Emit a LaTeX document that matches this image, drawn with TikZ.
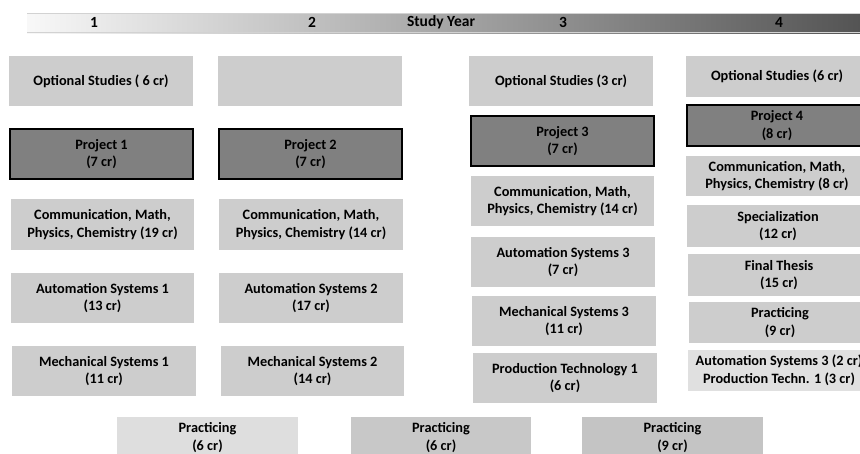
\documentclass[tikz,border=0pt]{standalone}
\usepackage{fontspec}
\setmainfont{Carlito}
\definecolor{boxgray}{RGB}{205,205,205}
\definecolor{lightbox}{RGB}{224,224,224}
\definecolor{projgray}{RGB}{128,128,128}
\definecolor{pracA}{RGB}{222,222,222}
\definecolor{pracB}{RGB}{200,200,200}
\definecolor{pracC}{RGB}{196,196,196}
\definecolor{barL}{RGB}{248,248,248}
\definecolor{barM}{RGB}{140,140,140}
\definecolor{barR}{RGB}{84,84,84}
\tikzset{
  cell/.style={fill=boxgray, inner sep=0pt, align=center,
    font=\fontsize{14.3}{17.5}\selectfont\bfseries, text=black},
  proj/.style={cell, fill=projgray, draw=black, line width=2pt},
  hdr/.style={font=\fontsize{15.5}{18}\selectfont\bfseries, text=black, inner sep=0pt},
}
\begin{document}
\begin{tikzpicture}[x=1pt,y=-1pt]
\useasboundingbox (0,0) rectangle (860,453);
\clip (0,0) rectangle (860,453);
\fill[white] (0,0) rectangle (860,453);
% header bar
\shade[left color=barL, middle color=barM, right color=barR] (27,13) rectangle (860,33);
\draw[gray!35, line width=0.8pt] (27,13.4) -- (860,13.4);
\draw[gray!35, line width=0.8pt] (27,32.6) -- (860,32.6);
\node[hdr] (y1) at (94,22) {1};
\node[hdr] (y2) at (312,22) {2};
\node[hdr] (sy) at (441,22) {Study Year};
\node[hdr] (y3) at (563,22) {3};
\node[hdr] (y4) at (779,22) {4};
% column 1
\node[cell, minimum width=184pt, minimum height=50pt] (opt1) at (101,81) {Optional Studies ( 6 cr)};
\node[proj, minimum width=183pt, minimum height=50pt] (proj1) at (101.5,154) {Project 1\\(7 cr)};
\node[cell, minimum width=183pt, minimum height=51pt] (comm1) at (102.5,224.5) {Communication, Math,\\Physics, Chemistry (19 cr)};
\node[cell, minimum width=183pt, minimum height=50pt] (auto1) at (102.5,298) {Automation Systems 1\\(13 cr)};
\node[cell, minimum width=184pt, minimum height=50pt] (mech1) at (104,371) {Mechanical Systems 1\\(11 cr)};
% column 2
\node[cell, minimum width=184pt, minimum height=50pt] (opt2) at (310,81) {};
\node[proj, minimum width=183pt, minimum height=50pt] (proj2) at (310.5,154) {Project 2\\(7 cr)};
\node[cell, minimum width=184pt, minimum height=51pt] (comm2) at (311,224.5) {Communication, Math,\\Physics, Chemistry (14 cr)};
\node[cell, minimum width=184pt, minimum height=50pt] (auto2) at (311,298) {Automation Systems 2\\(17 cr)};
\node[cell, minimum width=183pt, minimum height=50pt] (mech2) at (312.5,371) {Mechanical Systems 2\\(14 cr)};
% column 3
\node[cell, minimum width=184pt, minimum height=50pt] (opt3) at (561,81) {Optional Studies (3 cr)};
\node[proj, minimum width=183pt, minimum height=50pt] (proj3) at (562.5,141) {Project 3\\(7 cr)};
\node[cell, minimum width=183pt, minimum height=50pt] (comm3) at (562.5,201) {Communication, Math,\\Physics, Chemistry (14 cr)};
\node[cell, minimum width=184pt, minimum height=50pt] (auto3) at (563,262) {Automation Systems 3\\(7 cr)};
\node[cell, minimum width=184pt, minimum height=50pt] (mech3) at (564,321) {Mechanical Systems 3\\(11 cr)};
\node[cell, minimum width=184pt, minimum height=50pt] (prod3) at (565,378) {Production Technology 1\\(6 cr)};
% column 4
\node[cell, minimum width=182pt, minimum height=41pt] (opt4) at (777,76.5) {Optional Studies (6 cr)};
\node[proj, minimum width=180pt, minimum height=41pt] (proj4) at (777,125.5) {Project 4\\(8 cr)};
\node[cell, minimum width=182pt, minimum height=40pt] (comm4) at (777,176) {Communication, Math,\\Physics, Chemistry (8 cr)};
\node[cell, minimum width=182pt, minimum height=42pt] (spec4) at (778,226) {Specialization\\(12 cr)};
\node[cell, minimum width=182pt, minimum height=42pt] (thes4) at (779,275) {Final Thesis\\(15 cr)};
\node[cell, minimum width=182pt, minimum height=41pt] (prac4) at (780,322.5) {Practicing\\(9 cr)};
\node[cell, fill=lightbox, minimum width=182pt, minimum height=41pt] (ap4) at (779,370.5) {Automation Systems 3 (2 cr)\\Production Techn. 1 (3 cr)};
% practicing row
\node[cell, fill=pracA, minimum width=181pt, minimum height=41pt] (pr1) at (207.5,437.5) {Practicing\\(6 cr)};
\node[cell, fill=pracB, minimum width=180pt, minimum height=41pt] (pr2) at (441,437.5) {Practicing\\(6 cr)};
\node[cell, fill=pracC, minimum width=181pt, minimum height=41pt] (pr3) at (672.5,437.5) {Practicing\\(9 cr)};
\end{tikzpicture}
\end{document}
